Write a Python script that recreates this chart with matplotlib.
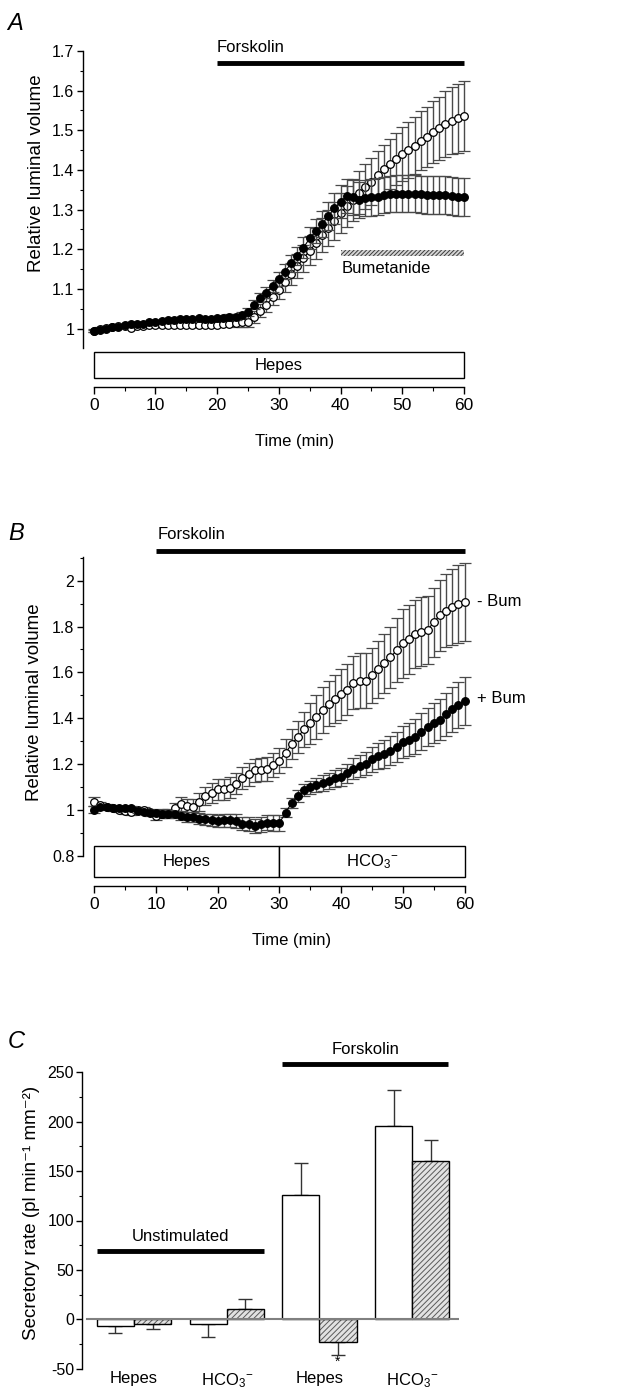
import matplotlib
matplotlib.use("Agg")
import matplotlib.pyplot as plt
from matplotlib.patches import Rectangle
from matplotlib.ticker import MultipleLocator, FuncFormatter
from matplotlib import font_manager
import numpy as np

_names = {f.name for f in font_manager.fontManager.ttflist}
if 'Liberation Sans Narrow' in _names:
    HFONT = 'Liberation Sans Narrow'
    TICK, TXT, XT = 13, 13.5, 13.5
else:
    HFONT = 'Liberation Sans'
    TICK, TXT, XT = 11.5, 12, 12.5
YL = 13.5

plt.rcParams['font.family'] = [HFONT, 'Liberation Sans', 'DejaVu Sans']
plt.rcParams['mathtext.fontset'] = 'custom'
plt.rcParams['mathtext.rm'] = HFONT
plt.rcParams['mathtext.it'] = HFONT + ':italic'
plt.rcParams['hatch.linewidth'] = 0.7

# ---------------- data ----------------
time_min = list(range(61))

# Panel A (Hepes, forskolin from 20 min, bumetanide from 40 min)
A_open = [0.995, 1.0, 1.002, 1.004, 1.006, 1.007, 1.002, 1.006, 1.007, 1.008, 1.009,
          1.009, 1.009, 1.009, 1.009, 1.009, 1.009, 1.009, 1.009, 1.009, 1.01,
          1.012, 1.013, 1.015, 1.016, 1.018, 1.029, 1.045, 1.06, 1.079, 1.098,
          1.118, 1.137, 1.158, 1.177, 1.197, 1.215, 1.236, 1.253, 1.271, 1.292,
          1.308, 1.324, 1.343, 1.358, 1.371, 1.387, 1.402, 1.415, 1.428, 1.44,
          1.45, 1.461, 1.474, 1.484, 1.495, 1.505, 1.516, 1.524, 1.53, 1.537]
A_open_se = [0.004] * 21 + [
          0.006, 0.007, 0.01, 0.012, 0.013, 0.015, 0.016, 0.018, 0.02, 0.022,
          0.025, 0.028, 0.031, 0.034, 0.037, 0.04, 0.043, 0.045, 0.048, 0.05,
          0.052, 0.053, 0.055, 0.057, 0.059, 0.061, 0.062, 0.064, 0.066, 0.068,
          0.07, 0.072, 0.074, 0.076, 0.078, 0.08, 0.082, 0.084, 0.086, 0.088]
A_filled = [0.994, 0.997, 1.0, 1.003, 1.005, 1.008, 1.011, 1.011, 1.013, 1.016, 1.018,
            1.019, 1.021, 1.023, 1.024, 1.024, 1.024, 1.026, 1.024, 1.024, 1.026,
            1.026, 1.03, 1.03, 1.034, 1.041, 1.06, 1.078, 1.091, 1.108, 1.125,
            1.144, 1.165, 1.184, 1.204, 1.228, 1.246, 1.263, 1.284, 1.303, 1.32,
            1.335, 1.331, 1.324, 1.329, 1.331, 1.333, 1.337, 1.34, 1.34, 1.34,
            1.34, 1.34, 1.339, 1.337, 1.337, 1.337, 1.336, 1.335, 1.333, 1.331]
A_filled_se = [0.003] * 20 + [
            0.004, 0.005, 0.006, 0.007, 0.008, 0.01, 0.011, 0.012, 0.013, 0.015,
            0.017, 0.019, 0.021, 0.023, 0.026, 0.028, 0.03, 0.033, 0.036, 0.039,
            0.041, 0.043, 0.045, 0.045, 0.045, 0.046, 0.046, 0.046, 0.046, 0.047,
            0.047, 0.047, 0.047, 0.047, 0.048, 0.048, 0.048, 0.048, 0.048, 0.048, 0.048]
A_forskolin = (20, 60)
A_bumetanide = (40, 60)
A_solutions = ['Hepes']
A_solution_spans = [(0, 60)]

# Panel B (Hepes -> HCO3-, forskolin from 10 min)
B_minus_bum = [1.035, 1.02, 1.013, 1.009, 1.001, 0.996, 0.991, 0.999, 1.0, 0.99, 0.972,
               0.984, 0.984, 1.006, 1.025, 1.016, 1.013, 1.035, 1.06, 1.074, 1.089,
               1.089, 1.096, 1.115, 1.137, 1.156, 1.173, 1.176, 1.18, 1.195, 1.214,
               1.249, 1.287, 1.319, 1.351, 1.377, 1.406, 1.435, 1.464, 1.482, 1.504,
               1.525, 1.555, 1.563, 1.563, 1.588, 1.613, 1.639, 1.665, 1.697, 1.726,
               1.744, 1.767, 1.777, 1.785, 1.818, 1.85, 1.869, 1.886, 1.898, 1.908]
B_minus_bum_se = [0.02, 0.015, 0.012, 0.012, 0.012, 0.012, 0.012, 0.012, 0.012, 0.015, 0.018,
                  0.018, 0.02, 0.025, 0.03, 0.032, 0.035, 0.038, 0.04, 0.043, 0.045,
                  0.045, 0.046, 0.047, 0.048, 0.05, 0.05, 0.052, 0.052, 0.053, 0.055,
                  0.06, 0.065, 0.07, 0.075, 0.09, 0.095, 0.1, 0.1, 0.105, 0.11,
                  0.11, 0.115, 0.12, 0.12, 0.12, 0.125, 0.13, 0.135, 0.14, 0.15,
                  0.15, 0.15, 0.15, 0.15, 0.15, 0.155, 0.16, 0.165, 0.17, 0.17]
B_plus_bum = [1.001, 1.013, 1.013, 1.009, 1.006, 1.006, 1.006, 0.996, 0.991, 0.988, 0.987,
              0.984, 0.984, 0.981, 0.972, 0.969, 0.967, 0.962, 0.958, 0.955, 0.952,
              0.955, 0.955, 0.952, 0.94, 0.937, 0.93, 0.937, 0.943, 0.943, 0.943,
              0.988, 1.031, 1.06, 1.086, 1.098, 1.108, 1.118, 1.127, 1.137, 1.144,
              1.159, 1.18, 1.191, 1.202, 1.22, 1.234, 1.243, 1.258, 1.275, 1.297,
              1.307, 1.319, 1.341, 1.362, 1.38, 1.394, 1.418, 1.438, 1.457, 1.476]
B_plus_bum_se = [0.015, 0.01, 0.01, 0.01, 0.01, 0.01, 0.01, 0.01, 0.01, 0.01, 0.012,
                 0.012, 0.014, 0.016, 0.018, 0.02, 0.022, 0.024, 0.025, 0.026, 0.027,
                 0.028, 0.028, 0.03, 0.03, 0.03, 0.03, 0.032, 0.033, 0.035, 0.036,
                 0.02, 0.022, 0.025, 0.027, 0.03, 0.032, 0.034, 0.036, 0.038, 0.04,
                 0.043, 0.045, 0.048, 0.05, 0.053, 0.056, 0.06, 0.063, 0.066, 0.07,
                 0.074, 0.077, 0.08, 0.084, 0.087, 0.09, 0.094, 0.097, 0.1, 0.105]
B_forskolin = (10, 60)
B_solutions = ['Hepes', 'HCO$_3$$^{-}$']
B_solution_spans = [(0, 30), (30, 60)]

# Panel C (secretory rates)
C_groups = ['Hepes', 'HCO$_3$$^{-}$', 'Hepes', 'HCO$_3$$^{-}$']
C_control = [-7, -5, 125.5, 196]
C_control_se = [7, 12.5, 33, 36]
C_bumetanide = [-5, 10, -23, 160]
C_bumetanide_se = [5, 10.5, 13.5, 21]
C_unstim_groups = (0, 1)
C_forsk_groups = (2, 3)
C_signif = [2]

# ---------------- figure ----------------
W, H = 630, 1388
fig = plt.figure(figsize=(W / 100, H / 100), dpi=100)

ECOL = '#4a4a4a'
REG = ['Liberation Sans', 'DejaVu Sans']


def px_axes(left, top, right, bottom):
    return fig.add_axes([left / W, 1 - bottom / H, (right - left) / W, (bottom - top) / H])


def fmt(v, pos):
    return f'{v:g}'


def style_y(ax, major, minor):
    for s in ['top', 'right', 'bottom']:
        ax.spines[s].set_visible(False)
    ax.spines['left'].set_linewidth(1.0)
    ax.yaxis.set_major_locator(MultipleLocator(major))
    ax.yaxis.set_minor_locator(MultipleLocator(minor))
    ax.yaxis.set_major_formatter(FuncFormatter(fmt))
    ax.tick_params(axis='y', which='major', direction='out', length=4, width=1,
                   labelsize=TICK, pad=2)
    ax.tick_params(axis='y', which='minor', direction='out', length=2, width=0.8)
    ax.tick_params(axis='x', which='both', bottom=False, labelbottom=False)
    ax.patch.set_visible(False)


def style_timeaxis(ax):
    for s in ['top', 'right', 'left']:
        ax.spines[s].set_visible(False)
    ax.spines['bottom'].set_bounds(0, 60)
    ax.spines['bottom'].set_linewidth(1.0)
    ax.xaxis.set_major_locator(MultipleLocator(10))
    ax.xaxis.set_minor_locator(MultipleLocator(5))
    ax.tick_params(axis='x', which='major', direction='out', length=5, width=1,
                   labelsize=XT, pad=3)
    ax.tick_params(axis='x', which='minor', direction='out', length=3, width=0.8)
    ax.tick_params(axis='y', which='both', left=False, labelleft=False)
    ax.set_ylim(0, 1)
    ax.patch.set_visible(False)


def plot_series(ax, y, se, filled, z):
    ax.errorbar(time_min, y, yerr=se, fmt='o-', color='black',
                mfc='black' if filled else 'white', mec='black', ms=5.5, mew=0.9,
                lw=0.8, ecolor=ECOL, elinewidth=1.0, capsize=4.5, capthick=1.0,
                zorder=z)


# ---- Panel A ----
axA = px_axes(82.6, 51, 470.1, 347.7)
axA.set_xlim(-1.8, 61)
axA.set_ylim(0.952, 1.7)
style_y(axA, 0.1, 0.05)
plot_series(axA, A_open, A_open_se, False, 3)
plot_series(axA, A_filled, A_filled_se, True, 4)
axA.plot(A_forskolin, [1.669, 1.669], color='black', lw=3.5, solid_capstyle='butt',
         clip_on=False)
axA.text(A_forskolin[0], 1.709, 'Forskolin', ha='left', va='center', fontsize=TXT)
axA.add_patch(Rectangle((A_bumetanide[0], 1.184), A_bumetanide[1] - A_bumetanide[0], 0.014,
                        facecolor='#d4d4d4', edgecolor='#3c3c3c', hatch='////////', lw=0))
axA.text(A_bumetanide[0] + 0.2, 1.152, 'Bumetanide', ha='left', va='center', fontsize=TXT)

axA2 = px_axes(82.6, 346, 470.1, 386.7)
axA2.set_xlim(-1.8, 61)
style_timeaxis(axA2)
for name, (s, e) in zip(A_solutions, A_solution_spans):
    axA2.add_patch(Rectangle((s, 0.214), e - s, 0.639, facecolor='white',
                             edgecolor='black', lw=1))
    axA2.text((s + e) / 2, 0.53, name, ha='center', va='center', fontsize=TXT)

fig.text(7 / W, 1 - 24 / H, 'A', fontsize=17, style='italic', ha='left', va='center',
         family=REG)
fig.text(36.7 / W, 1 - 173 / H, 'Relative luminal volume', rotation=90,
         ha='center', va='center', fontsize=YL, family=REG)
fig.text(295 / W, 1 - 441.7 / H, 'Time (min)', ha='center', va='center', fontsize=TXT)

# ---- Panel B ----
axB = px_axes(82.6, 557.3, 470.7, 855.7)
axB.set_xlim(-1.9, 61)
axB.set_ylim(0.8, 2.102)
style_y(axB, 0.2, 0.1)
plot_series(axB, B_minus_bum, B_minus_bum_se, False, 3)
plot_series(axB, B_plus_bum, B_plus_bum_se, True, 4)
axB.plot(B_forskolin, [2.131, 2.131], color='black', lw=3.5, solid_capstyle='butt',
         clip_on=False)
axB.text(B_forskolin[0] + 0.3, 2.2, 'Forskolin', ha='left', va='center', fontsize=TXT)
axB.text(62, B_minus_bum[-1], '- Bum', ha='left', va='center', fontsize=TXT)
axB.text(62, B_plus_bum[-1] + 0.012, '+ Bum', ha='left', va='center', fontsize=TXT)

axB2 = px_axes(82.6, 840, 470.7, 886)
axB2.set_xlim(-1.9, 61)
style_timeaxis(axB2)
for name, (s, e) in zip(B_solutions, B_solution_spans):
    axB2.add_patch(Rectangle((s, 0.196), e - s, 0.674, facecolor='white',
                             edgecolor='black', lw=1))
    axB2.text((s + e) / 2, 0.53, name, ha='center', va='center', fontsize=TXT)

fig.text(8 / W, 1 - 533 / H, 'B', fontsize=17, style='italic', ha='left', va='center',
         family=REG)
fig.text(35 / W, 1 - 701.7 / H, 'Relative luminal volume', rotation=90,
         ha='center', va='center', fontsize=YL, family=REG)
fig.text(291.7 / W, 1 - 940 / H, 'Time (min)', ha='center', va='center', fontsize=TXT)

# ---- Panel C ----
axC = px_axes(82.3, 1072.3, 458.5, 1368.7)
axC.set_xlim(-0.558, 3.5)
axC.set_ylim(-50, 250)
style_y(axC, 50, 25)
x = np.arange(len(C_groups))
w = 0.4
ctrl = np.array(C_control)
bum = np.array(C_bumetanide)
axC.bar(x - w / 2, ctrl, w, color='white', edgecolor='black', lw=1, zorder=2)
axC.bar(x + w / 2, bum, w, color='#e2e2e2', edgecolor='#5a5a5a', hatch='//////',
        lw=0, zorder=2)
axC.bar(x + w / 2, bum, w, fill=False, edgecolor='black', lw=1, zorder=2.1)
ce = np.array(C_control_se)
be = np.array(C_bumetanide_se)
axC.errorbar(x - w / 2, ctrl, yerr=[np.where(ctrl < 0, ce, 0), np.where(ctrl >= 0, ce, 0)],
             fmt='none', ecolor='#333333', elinewidth=1, capsize=5, capthick=1, zorder=1.5)
axC.errorbar(x + w / 2, bum, yerr=[np.where(bum < 0, be, 0), np.where(bum >= 0, be, 0)],
             fmt='none', ecolor='#333333', elinewidth=1, capsize=5, capthick=1, zorder=1.5)
axC.axhline(0, xmin=0.012, xmax=1, color='#808080', lw=1.5, zorder=3)
for i in C_signif:
    axC.text(x[i] + w / 2, bum[i] - be[i] - 7, '*', ha='center', va='center', fontsize=10)
axC.plot([C_unstim_groups[0] - w, C_unstim_groups[1] + w], [69.4, 69.4], color='black',
         lw=3.5, solid_capstyle='butt')
axC.text(np.mean(C_unstim_groups), 84, 'Unstimulated', ha='center', va='center', fontsize=TXT)
axC.plot([C_forsk_groups[0] - w, C_forsk_groups[1] + w * 0.98], [258.3, 258.3],
         color='black', lw=3.5, solid_capstyle='butt', clip_on=False)
axC.text(np.mean(C_forsk_groups), 272.6, 'Forskolin', ha='center', va='center', fontsize=TXT)
axC.set_xticks(x)
axC.set_xticklabels(C_groups)
axC.tick_params(axis='x', which='both', bottom=False, labelbottom=True, length=0,
                pad=2, labelsize=TXT)

fig.text(8 / W, 1 - 1042 / H, 'C', fontsize=17, style='italic', ha='left', va='center',
         family=REG)
fig.text(31.7 / W, 1 - 1213 / H, 'Secretory rate (pl min\u207b\u00b9 mm\u207b\u00b2)',
         rotation=90, ha='center', va='center', fontsize=YL, family=REG)

fig.savefig('out.png', dpi=100)
